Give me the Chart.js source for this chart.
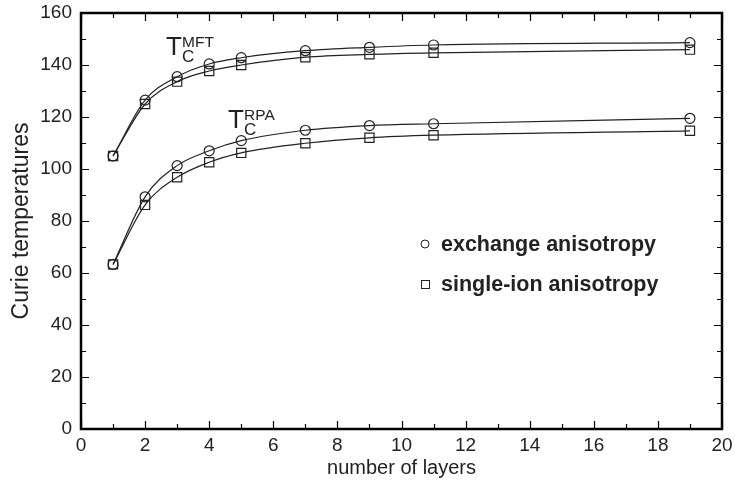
<!DOCTYPE html>
<html>
<head>
<meta charset="utf-8">
<script src="https://cdn.jsdelivr.net/npm/chart.js@4.4.1/dist/chart.umd.min.js"></script>
<style>
  html, body { margin: 0; padding: 0; background: #fff; }
  #wrap { width: 735px; height: 480px; }
</style>
</head>
<body>
<div id="wrap"><canvas id="grafico"></canvas></div>
<script>
// Number of layers (x values)
const camadas = [1, 2, 3, 4, 5, 7, 9, 11, 19];

// Curie temperatures
const mftExchange  = [105, 126.5, 135.5, 140.4, 142.8, 145.5, 146.8, 147.7, 148.6];
const mftSingleIon = [105, 125.0, 133.6, 137.7, 140.0, 143.0, 144.1, 144.7, 145.9];
const rpaExchange  = [63.3, 89.3, 101.3, 107.0, 110.9, 114.9, 116.7, 117.4, 119.5];
const rpaSingleIon = [63.3, 86.2, 96.8, 102.6, 106.2, 109.9, 112.0, 113.0, 114.7];

const xTicks = [0, 2, 4, 6, 8, 10, 12, 14, 16, 18, 20];
const yTicks = [0, 20, 40, 60, 80, 100, 120, 140, 160];

const FONTE = "'Liberation Sans', Arial, Helvetica, sans-serif";

function serie(valores, estilo) {
  return {
    data: camadas.map((x, i) => ({ x, y: valores[i] })),
    showLine: true,
    borderColor: '#222',
    borderWidth: 1.2,
    cubicInterpolationMode: 'monotone',
    pointStyle: estilo,
    pointRadius: estilo === 'rect' ? 6.5 : 5,
    pointBackgroundColor: 'rgba(255,255,255,0)',
    pointBorderColor: '#222',
    pointBorderWidth: 1.2
  };
}

// Inward ticks, frame, labels and legend
const molduraPlugin = {
  id: 'moldura',
  afterDraw(chart) {
    const ctx = chart.ctx;
    const xs = chart.scales.x, ys = chart.scales.y;
    const a = chart.chartArea;
    ctx.save();
    ctx.strokeStyle = '#000';
    ctx.lineWidth = 1.2;
    for (let v = 0; v <= 20; v++) {
      const p = Math.round(xs.getPixelForValue(v)) + 0.5;
      const len = v % 2 === 0 ? 8 : 5;
      ctx.beginPath();
      ctx.moveTo(p, a.bottom); ctx.lineTo(p, a.bottom - len);
      ctx.moveTo(p, a.top); ctx.lineTo(p, a.top + len);
      ctx.stroke();
    }
    for (let v = 0; v <= 160; v += 10) {
      const p = Math.round(ys.getPixelForValue(v)) + 0.5;
      const len = v % 20 === 0 ? 8 : 5;
      ctx.beginPath();
      ctx.moveTo(a.left, p); ctx.lineTo(a.left + len, p);
      ctx.moveTo(a.right, p); ctx.lineTo(a.right - len, p);
      ctx.stroke();
    }
    ctx.lineWidth = 2.5;
    ctx.strokeRect(a.left, a.top, a.right - a.left, a.bottom - a.top);

    // T_C labels
    ctx.fillStyle = '#222';
    ctx.textBaseline = 'alphabetic';
    ctx.textAlign = 'left';
    const rotulo = (x, y, sup) => {
      ctx.font = '26px ' + FONTE;
      ctx.fillText('T', x, y);
      ctx.font = '15.5px ' + FONTE;
      ctx.fillText(sup, x + 16, y - 8);
      ctx.font = '17px ' + FONTE;
      ctx.fillText('C', x + 16, y + 7);
    };
    rotulo(166, 55, 'MFT');
    rotulo(228, 128, 'RPA');

    // legend
    ctx.lineWidth = 1;
    ctx.strokeStyle = '#222';
    ctx.beginPath();
    ctx.arc(425, 244, 4, 0, Math.PI * 2);
    ctx.stroke();
    ctx.strokeRect(421.5, 280.5, 8, 8);
    ctx.font = 'bold 21.5px ' + FONTE;
    ctx.textBaseline = 'middle';
    ctx.fillText('exchange anisotropy', 441, 245);
    ctx.fillText('single-ion anisotropy', 441, 285);
    ctx.restore();
  }
};

new Chart(document.getElementById('grafico'), {
  type: 'scatter',
  data: {
    datasets: [
      serie(mftExchange, 'circle'),
      serie(mftSingleIon, 'rect'),
      serie(rpaExchange, 'circle'),
      serie(rpaSingleIon, 'rect')
    ]
  },
  options: {
    responsive: true,
    maintainAspectRatio: false,
    animation: false,
    layout: { padding: { top: 13, right: 13, left: 0, bottom: 0 } },
    plugins: {
      legend: { display: false },
      tooltip: { enabled: false }
    },
    scales: {
      x: {
        type: 'linear',
        min: 0, max: 20,
        afterBuildTicks: s => { s.ticks = xTicks.map(v => ({ value: v })); },
        afterFit: s => { s.height = 51; s.paddingLeft = 0; s.paddingRight = 0; },
        grid: { display: false, drawTicks: false, tickLength: 0 },
        border: { display: false },
        ticks: { color: '#222', padding: 5, font: { family: FONTE, size: 19 } },
        title: {
          display: true, text: 'number of layers', color: '#222',
          padding: { top: 0, bottom: 0 },
          font: { family: FONTE, size: 20 }
        }
      },
      y: {
        min: 0, max: 160,
        afterBuildTicks: s => { s.ticks = yTicks.map(v => ({ value: v })); },
        afterFit: s => { s.width = 81; s.paddingTop = 0; s.paddingBottom = 0; },
        grid: { display: false, drawTicks: false, tickLength: 0 },
        border: { display: false },
        ticks: { color: '#222', padding: 9, font: { family: FONTE, size: 19 } },
        title: {
          display: true, text: 'Curie temperatures', color: '#222',
          padding: { top: 8, bottom: 0 },
          font: { family: FONTE, size: 23 }
        }
      }
    }
  },
  plugins: [molduraPlugin]
});
</script>
</body>
</html>
